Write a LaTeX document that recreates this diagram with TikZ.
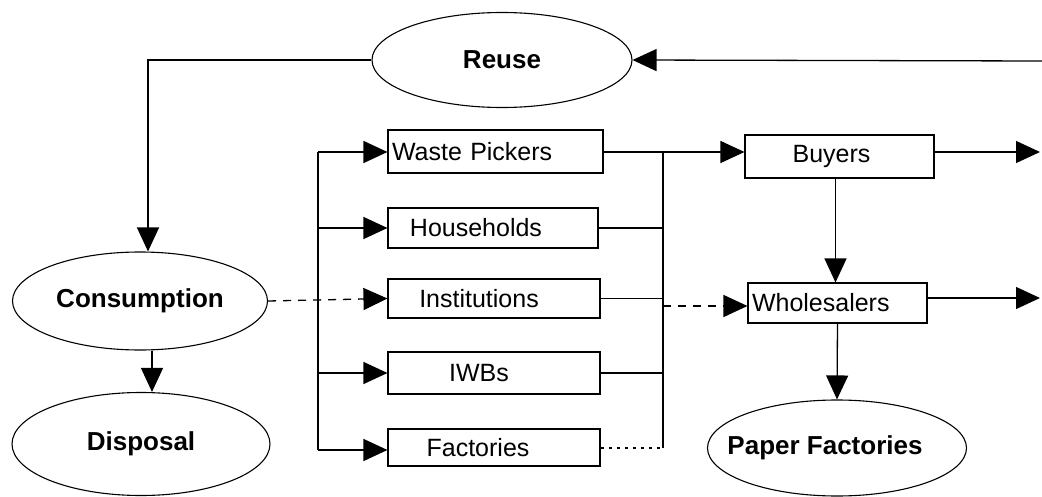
\documentclass[tikz,border=0pt]{standalone}
\usepackage{fontspec}
\setmainfont{Liberation Sans}
\usetikzlibrary{shapes.geometric,arrows.meta}
\begin{document}
\begin{tikzpicture}[x=1pt,y=-1pt,
  ln/.style={line width=1.3pt},
  arr/.style={ln,-{Triangle[length=24pt,width=22pt]}},
  dsh/.style={dash pattern=on 8pt off 7pt},
  oval/.style={ellipse,draw,line width=1.1pt,inner xsep=-30pt,inner ysep=0pt,font=\fontsize{26}{30}\selectfont\bfseries},
  box/.style={rectangle,draw,line width=1.1pt,inner sep=4pt,font=\fontsize{25}{29}\selectfont}]
\useasboundingbox (0,0) rectangle (1042,497);
% ellipses
\node[oval,minimum width=260pt,minimum height=95pt] (reuse) at (502,60) {Reuse};
\node[oval,minimum width=255pt,minimum height=98pt] (cons) at (140,301) {Consumption};
\node[oval,minimum width=258pt,minimum height=103pt] (disp) at (141,444) {Disposal};
\node[oval,minimum width=259pt,minimum height=96pt] (pf) at (837,448) {\hspace*{-24pt}Paper Factories};
% boxes
\node[box,minimum width=215pt,minimum height=43pt,text width=207pt,align=left] (wp) at (495.5,151.5) {Waste Pickers};
\node[box,minimum width=210pt,minimum height=40pt] (hh) at (493,228) {\hspace*{-34pt}Households};
\node[box,minimum width=212pt,minimum height=39pt] (inst) at (494,298.5) {\hspace*{-30pt}Institutions};
\node[box,minimum width=212pt,minimum height=42pt] (iwb) at (494,373) {\hspace*{-30pt}IWBs};
\node[box,minimum width=212pt,minimum height=37pt] (fac) at (494,447.5) {\hspace*{-32pt}Factories};
\node[box,minimum width=189pt,minimum height=43pt] (buy) at (839.5,156.5) {\hspace*{-16pt}Buyers};
\node[box,minimum width=179pt,minimum height=40pt,text width=171pt,align=left] (whol) at (837.5,303) {Wholesalers};
% coordinates
\coordinate (lbt) at (318,152);
\coordinate (lbb) at (318,450);
\coordinate (rbt) at (663,152);
\coordinate (rbb) at (663,448);
\coordinate (rin) at (1042,61);
\coordinate (bout) at (1040,152);
\coordinate (wout) at (1040,298);
\coordinate (rbw) at (663,306);
% connectors
\draw[arr] (rin) -- (reuse.east);
\draw[arr] (reuse.west) -| ([xshift=8pt]cons.north);
\draw[arr] ([xshift=12pt]cons.south) -- ([xshift=11pt]disp.north);
\draw[arr,dsh] (cons.east) -- (inst.west);
\draw[ln] (lbt) -- (lbb);
\draw[arr] (lbt) -- (wp.west |- lbt);
\draw[arr] (lbt |- hh.west) -- (hh.west);
\draw[arr] (lbt |- iwb.west) -- (iwb.west);
\draw[arr] (lbb) -- (fac.west |- lbb);
\draw[ln] (rbt) -- (rbb);
\draw[ln] (wp.east |- rbt) -- (rbt);
\draw[ln] (hh.east) -- (hh.east -| rbt);
\draw[ln] (inst.east) -- (inst.east -| rbt);
\draw[ln] (iwb.east) -- (iwb.east -| rbt);
\draw[ln,dash pattern=on 3pt off 5pt] (fac.east |- rbb) -- (rbb);
\draw[arr] (rbt) -- (buy.west |- rbt);
\draw[arr,dsh] (rbw) -- (whol.west |- rbw);
\draw[arr] ([xshift=-4pt]buy.south) -- ([xshift=-2pt]whol.north);
\draw[arr] (buy.east |- bout) -- (bout);
\draw[arr] (whol.east |- wout) -- (wout);
\draw[arr] (whol.south) -- (pf.north);
\end{tikzpicture}
\end{document}
